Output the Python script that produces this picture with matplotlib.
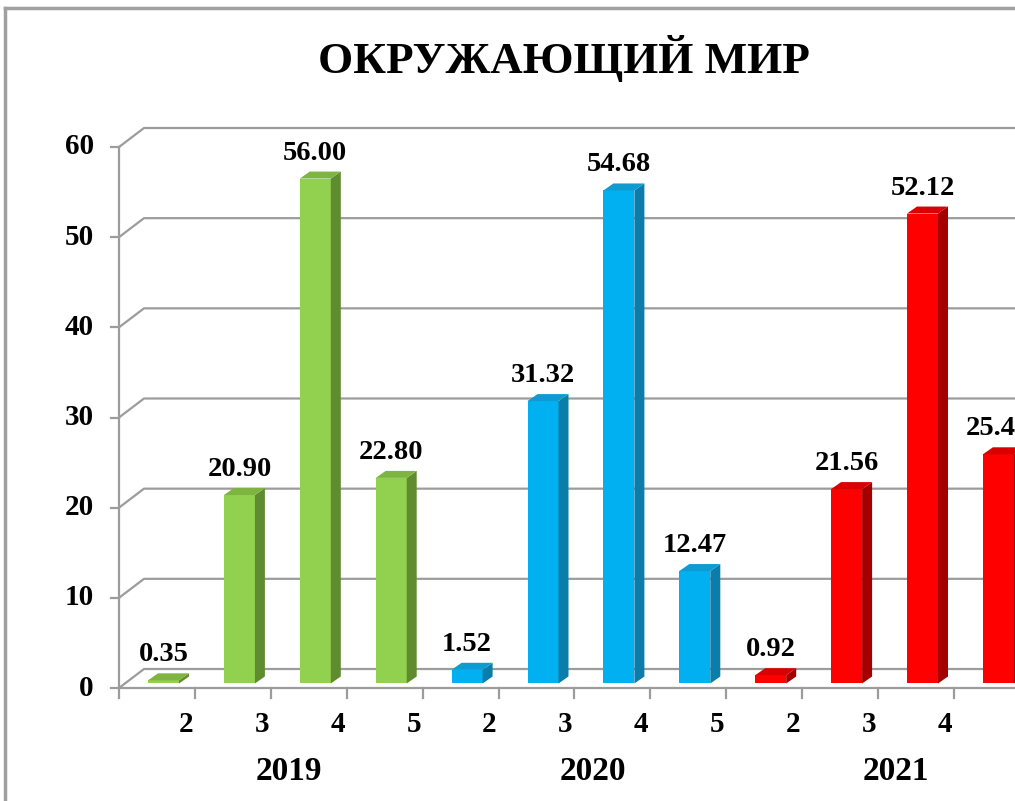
import matplotlib
matplotlib.use("Agg")
import matplotlib.pyplot as plt
from matplotlib.patches import Polygon
from matplotlib.lines import Line2D

# ---- data ----
years = ["2019", "2020", "2021"]
grades = ["2", "3", "4", "5"]
values_2019 = [0.35, 20.90, 56.00, 22.80]
values_2020 = [1.52, 31.32, 54.68, 12.47]
values_2021 = [0.92, 21.56, 52.12, 25.42]
yticks = [0, 10, 20, 30, 40, 50, 60]
title = "ОКРУЖАЮЩИЙ МИР"

front_colors = ["#92D050", "#00B0F0", "#FF0000"]
side_colors = ["#5E8C2E", "#0A7DAA", "#A50000"]
top_colors = ["#7DB540", "#0E9BD2", "#D80000"]

W, H = 1015, 801
fig = plt.figure(figsize=(W / 100, H / 100), dpi=100)
fig.patch.set_facecolor("white")

# pixel geometry of the front plane
x0_px, y0_px, y60_px = 119, 688, 147
cat_px = 75.9
ax = fig.add_axes([x0_px / W, (H - y0_px) / H, (W - x0_px) / W, (y0_px - y60_px) / H])
xmax = -0.5 + (W - x0_px) / cat_px
ax.set_xlim(-0.5, xmax)
ax.set_ylim(0, 60)
ax.axis("off")

py = 60 / (y0_px - y60_px)  # data units per pixel (y)
px = 1 / cat_px              # data units per pixel (x)

wall_dx, wall_dy = 25 * px, 19 * py
grid_c = "#9C9C9C"
lw = 1.6
font = "Liberation Serif"

# gridlines (back wall + perspective diagonals) and left ticks
for v in yticks:
    ax.add_line(Line2D([-0.5, -0.5 + wall_dx, xmax + 1], [v, v + wall_dy, v + wall_dy],
                       color=grid_c, lw=lw, clip_on=False, zorder=1))
    ax.add_line(Line2D([-0.5 - 8 * px, -0.5], [v, v], color=grid_c, lw=lw, clip_on=False))
    ax.text(-0.5 - 25 * px, v, f"{v}", ha="right", va="center", fontsize=21,
            fontweight="bold", family=font)

# front axis lines
ax.add_line(Line2D([-0.5, -0.5], [0, 60], color=grid_c, lw=lw, clip_on=False, zorder=2))
ax.add_line(Line2D([-0.5, xmax + 1], [0, 0], color=grid_c, lw=lw, clip_on=False, zorder=2))

all_values = [values_2019, values_2020, values_2021]
n = 0
for g, vals in enumerate(all_values):
    for k, v in enumerate(vals):
        i = n
        # tick at category boundary
        ax.add_line(Line2D([i - 0.5, i - 0.5], [0, -10 * py], color=grid_c, lw=lw, clip_on=False))
        # bar
        bl = i - 0.5 + 29 * px
        bw = 31 * px
        base = 0.5
        top = base + v
        ddx, ddy = 10 * px, 7 * py
        front = Polygon([[bl, base], [bl + bw, base], [bl + bw, top], [bl, top]],
                        closed=True, fc=front_colors[g], ec="none", zorder=5, clip_on=False)
        side = Polygon([[bl + bw, base], [bl + bw + ddx, base + ddy], [bl + bw + ddx, top + ddy],
                        [bl + bw, top]], closed=True, fc=side_colors[g], ec="none", zorder=5,
                       clip_on=False)
        topf = Polygon([[bl, top], [bl + bw, top], [bl + bw + ddx, top + ddy], [bl + ddx, top + ddy]],
                       closed=True, fc=top_colors[g], ec="none", zorder=5, clip_on=False)
        for p in (front, side, topf):
            ax.add_patch(p)
        ax.text(bl + bw / 2, top + ddy + 6 * py, f"{v:.2f}", ha="center", va="bottom",
                fontsize=20.5, fontweight="bold", family=font, clip_on=False)
        # category label (the reference is cropped: labels past the right edge are not shown)
        lx = i + 29 * px
        if lx < xmax - 0.05:
            ax.text(lx, -37 * py, grades[k], ha="center", va="center", fontsize=21,
                    fontweight="bold", family=font, clip_on=False)
        n += 1
    # year label
    gc = (n - 4 + n - 1) / 2
    ax.text(gc + 18 * px, -84 * py, years[g], ha="center", va="center", fontsize=24,
            fontweight="bold", family=font, clip_on=False)
ax.add_line(Line2D([n - 0.5, n - 0.5], [0, -10 * py], color=grid_c, lw=lw, clip_on=False))

# title
fig.text(564 / W, 1 - 58 / H, title, ha="center", va="center", fontsize=32.5,
         fontweight="bold", family=font)

# chart frame
fig.add_artist(Line2D([5 / W, 1], [1 - 8 / H, 1 - 8 / H], color="#A0A0A0", lw=2.5,
                      transform=fig.transFigure))
fig.add_artist(Line2D([5 / W, 5 / W], [0, 1 - 8 / H], color="#A0A0A0", lw=2.5,
                      transform=fig.transFigure))

fig.savefig("out.png", dpi=100)
